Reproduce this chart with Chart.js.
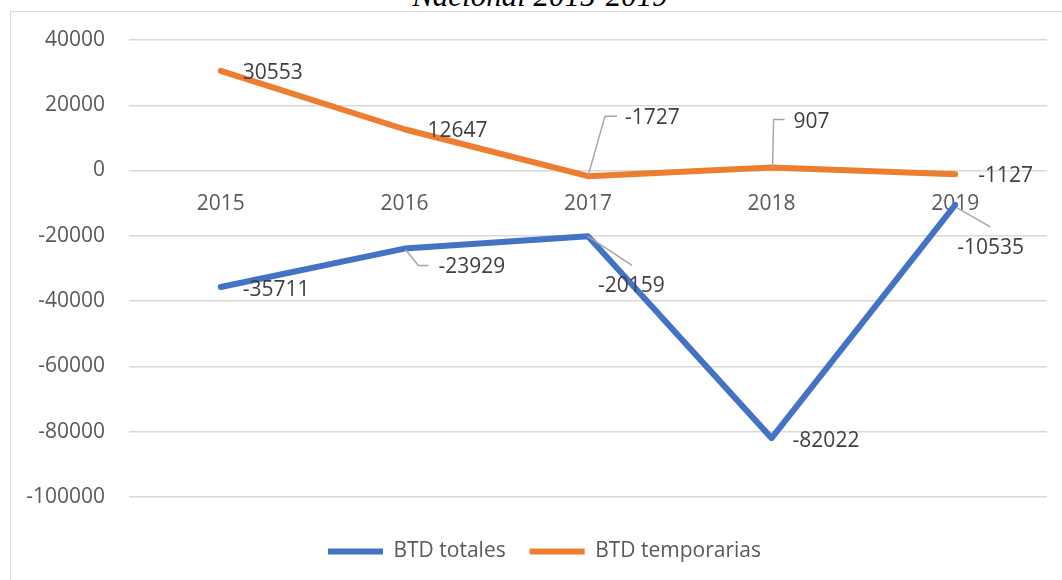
<!DOCTYPE html>
<html>
<head>
<meta charset="utf-8">
<script src="https://cdn.jsdelivr.net/npm/chart.js@4/dist/chart.umd.min.js"></script>
<style>
  html, body { margin: 0; padding: 0; background: #fff; overflow: hidden; }
  #wrap { position: relative; width: 1062px; height: 580px; overflow: hidden; }
  #frame { position: absolute; left: 10px; top: 11px; width: 1070px; height: 600px; border: 1px solid #d9d9d9; }
  #title { position: absolute; left: 9px; top: -20px; width: 1062px; text-align: center;
           font: italic 31px/31px "Liberation Serif", serif; color: #000; white-space: nowrap; }
  canvas { position: absolute; left: 0; top: 0; }
</style>
</head>
<body>
<div id="wrap">
  <div id="frame"></div>
  <div id="title">Nacional 2015-2019</div>
  <canvas id="chart" width="1062" height="580"></canvas>
</div>
<script>
const years = ['2015', '2016', '2017', '2018', '2019'];
const btdTotales = [-35711, -23929, -20159, -82022, -10535];
const btdTemporarias = [30553, 12647, -1727, 907, -1127];
const yMin = -100000;
const yMax = 40000;
const yStep = 20000;

// where each value label sits relative to its point (text left edge, middle), plus optional leader line
const labelPlacement = [
    [
        {dx: 22, dy: 3},
        {dx: 34, dy: 18, leader: [[1, 1], [14, 17], [24, 17]]},
        {dx: 10, dy: 50, leader: [[0, 0], [44, 29]]},
        {dx: 21, dy: 3},
        {dx: 2, dy: 43, leader: [[2, 3], [35, 22]]}
    ],
    [
        {dx: 22, dy: 2},
        {dx: 23, dy: 2},
        {dx: 37, dy: -58, leader: [[0, 0], [17, -60], [29, -60]]},
        {dx: 22, dy: -46, leader: [[1, 0], [2, -48], [13, -48]]},
        {dx: 23, dy: 2}
    ]
];

const valueLabels = {
    id: 'valueLabels',
    afterDatasetsDraw(chart) {
        const ctx = chart.ctx;
        ctx.save();
        chart.data.datasets.forEach((ds, i) => {
            const meta = chart.getDatasetMeta(i);
            meta.data.forEach((pt, j) => {
                const p = labelPlacement[i][j];
                if (p.leader) {
                    ctx.beginPath();
                    ctx.strokeStyle = '#a6a6a6';
                    ctx.lineWidth = 1.5;
                    p.leader.forEach((q, k) => {
                        if (k === 0) ctx.moveTo(pt.x + q[0], pt.y + q[1]);
                        else ctx.lineTo(pt.x + q[0], pt.y + q[1]);
                    });
                    ctx.stroke();
                }
                ctx.fillStyle = '#404040';
                ctx.font = '21px "Open Sans"';
                ctx.textAlign = 'left';
                ctx.textBaseline = 'middle';
                ctx.fillText(String(ds.data[j]), pt.x + p.dx, pt.y + p.dy);
            });
        });
        ctx.restore();
    }
};

// nudge the legend a little to the right, as in the original
const legendShift = {
    id: 'legendShift',
    afterLayout(chart) {
        if (chart.legend) {
            chart.legend.left += 10;
            chart.legend.right += 10;
        }
    }
};

Chart.defaults.font.family = '"Open Sans", sans-serif';
Chart.defaults.font.size = 21;
Chart.defaults.color = '#595959';

new Chart(document.getElementById('chart'), {
    type: 'line',
    data: {
        labels: years,
        datasets: [
            {
                label: 'BTD totales',
                data: btdTotales,
                borderColor: '#4472c4',
                backgroundColor: '#4472c4',
                borderWidth: 6,
                borderCapStyle: 'round',
                borderJoinStyle: 'round',
                pointRadius: 0,
                fill: false,
                tension: 0
            },
            {
                label: 'BTD temporarias',
                data: btdTemporarias,
                borderColor: '#ed7d31',
                backgroundColor: '#ed7d31',
                borderWidth: 6,
                borderCapStyle: 'round',
                borderJoinStyle: 'round',
                pointRadius: 0,
                fill: false,
                tension: 0
            }
        ]
    },
    options: {
        responsive: false,
        animation: false,
        layout: {
            padding: {left: 22, right: 15, top: 40, bottom: 8}
        },
        plugins: {
            legend: {
                position: 'bottom',
                title: {display: true, text: '', font: {size: 1}, padding: {top: 0, bottom: 19}},
                labels: {
                    usePointStyle: true,
                    pointStyle: 'line',
                    pointStyleWidth: 55,
                    padding: 24,
                    color: '#595959'
                }
            },
            tooltip: {enabled: false}
        },
        scales: {
            x: {
                position: {y: 0},
                offset: true,
                grid: {display: false},
                border: {display: false},
                ticks: {padding: 13, color: '#595959'}
            },
            y: {
                min: yMin,
                max: yMax,
                grid: {color: '#d9d9d9', lineWidth: 1.5, drawTicks: false},
                border: {display: false},
                afterFit: function(scale) {
                    scale.width = 107;
                },
                ticks: {
                    stepSize: yStep,
                    padding: 24,
                    color: '#595959',
                    callback: function(value) {
                        return String(value);
                    }
                }
            }
        }
    },
    plugins: [valueLabels, legendShift]
});
</script>
</body>
</html>
